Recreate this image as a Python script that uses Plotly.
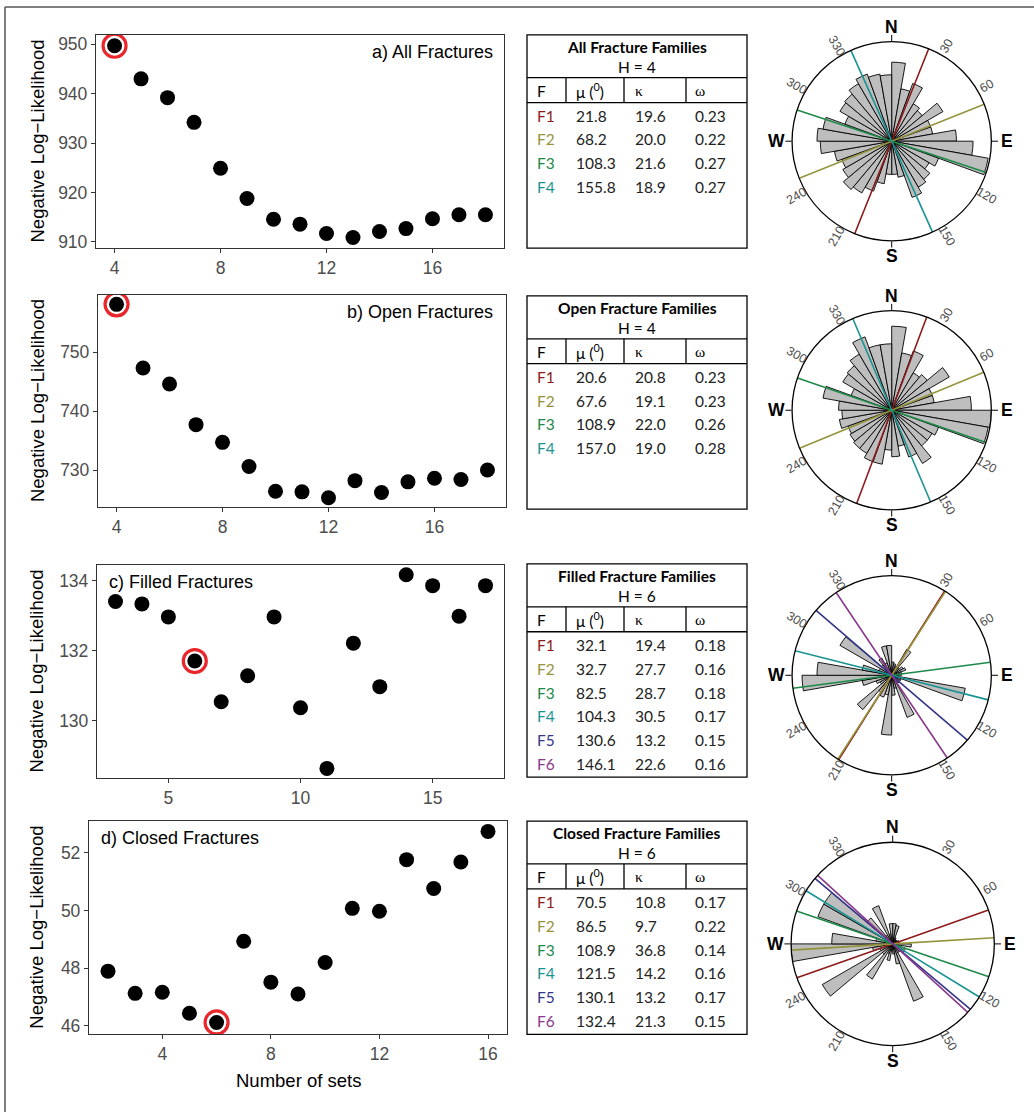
import math
import plotly.graph_objects as go

W, H = 1034, 1116

# ---------------- data ----------------
sets_a = list(range(4, 19))
nll_a = [949.7, 943.0, 939.2, 934.2, 924.9, 918.8, 914.6, 913.6, 911.7, 910.9, 912.1, 912.7, 914.7, 915.5, 915.5]
sets_b = list(range(4, 19))
nll_b = [758.1, 747.3, 744.6, 737.7, 734.7, 730.6, 726.4, 726.3, 725.3, 728.2, 726.2, 728.0, 728.6, 728.4, 730.0]
sets_c = list(range(3, 18))
nll_c = [133.40, 133.33, 132.96, 131.70, 130.54, 131.28, 132.96, 130.37, 128.64, 132.21, 130.97, 134.16, 133.85, 132.98, 133.85]
sets_d = list(range(2, 17))
nll_d = [47.89, 47.12, 47.16, 46.43, 46.11, 48.93, 47.51, 47.10, 48.19, 50.07, 49.97, 51.76, 50.76, 51.68, 52.74]
best_sets = [4, 4, 6, 6]
panel_titles = ["a) All Fractures", "b) Open Fractures", "c) Filled Fractures", "d) Closed Fractures"]

table_titles = ["All Fracture Families", "Open Fracture Families", "Filled Fracture Families", "Closed Fracture Families"]
n_families = [4, 4, 6, 6]
mu_a = [21.8, 68.2, 108.3, 155.8]
kappa_a = [19.6, 20.0, 21.6, 18.9]
omega_a = [0.23, 0.22, 0.27, 0.27]
mu_b = [20.6, 67.6, 108.9, 157.0]
kappa_b = [20.8, 19.1, 22.0, 19.0]
omega_b = [0.23, 0.23, 0.26, 0.28]
mu_c = [32.1, 32.7, 82.5, 104.3, 130.6, 146.1]
kappa_c = [19.4, 27.7, 28.7, 30.5, 13.2, 22.6]
omega_c = [0.18, 0.16, 0.18, 0.17, 0.15, 0.16]
mu_d = [70.5, 86.5, 108.9, 121.5, 130.1, 132.4]
kappa_d = [10.8, 9.7, 36.8, 14.2, 13.2, 21.3]
omega_d = [0.17, 0.22, 0.14, 0.16, 0.17, 0.15]
family_colors = ["#8E1B1B", "#95943C", "#1E8A4A", "#1A9393", "#35388A", "#8A3A8C"]

# rose diagram bins (10 degree bins, clockwise from North) - relative frequency
bin_centers = list(range(5, 360, 10))
rose_a = [23.8, 16, 18.5, 13, 12, 17.8, 12.5, 12.5, 19.5, 24.5, 29.5, 15, 13, 15, 16, 18, 11, 10,
          10, 13, 16, 18, 19, 17, 16, 17.5, 21.5, 22.5, 21, 15, 18, 18.5, 20, 21.5, 20.5, 20]
rose_b = [25.3, 17.5, 19, 13, 14, 20, 13, 13, 24, 30, 29.5, 15, 14, 14, 18.5, 15, 11, 14,
          12, 16.5, 16.5, 15, 15, 14.5, 14, 16, 15, 16, 21, 13, 17, 17.5, 19.5, 23.5, 20, 20]
rose_c = [4, 3.5, 3, 9, 3, 4, 4.5, 3, 3, 2, 22.5, 3, 3, 3, 3, 13.5, 4, 6,
          18, 6, 7, 6, 13.5, 4, 5, 9, 27, 22.5, 9, 4, 18, 4, 6, 4, 9, 9]
rose_d = [6, 5.5, 2, 1.5, 1.5, 1.5, 2, 2, 2, 5.5, 2, 4, 4, 3, 3, 18, 6, 3,
          2, 5, 3, 12, 4, 24, 4, 6, 30, 18, 5, 23.5, 23.5, 10, 3, 12, 3, 6]
angle_labels = [30, 60, 120, 150, 210, 240, 300, 330]
compass = {"N": 0, "E": 90, "S": 180, "W": 270}

# ---------------- layout helpers ----------------
def px(x):
    return x / W

def py(y):
    return 1 - y / H

FONT = "Liberation Sans, Arial, sans-serif"
TFONT = "Lato, Open Sans, sans-serif"
SERIF = "Liberation Serif, Times New Roman, serif"

fig = go.Figure()
annotations = []
shapes = []


def note(x, y, text, size, color="black", family=FONT, xanchor="center", textangle=0):
    annotations.append(dict(x=px(x), y=py(y), xref="paper", yref="paper", text=text,
                            showarrow=False, xanchor=xanchor, yanchor="middle",
                            textangle=textangle, borderpad=0,
                            font=dict(family=family, size=size, color=color)))


# scatter panel geometry (pixels): left, right, top, bottom
scatter_boxes = [(96, 504, 35, 249), (98, 506, 296, 509), (97, 504, 567, 781), (89, 507, 824, 1038)]
xranges = [[3.3, 18.7], [3.3, 18.7], [2.3, 17.7], [1.3, 16.7]]
yranges = [[908.75, 951.9], [723.7, 759.7], [128.36, 134.44], [45.7, 53.1]]
xticks = [[4, 8, 12, 16], [4, 8, 12, 16], [5, 10, 15], [4, 8, 12, 16]]
yticks = [[910, 920, 930, 940, 950], [730, 740, 750], [130, 132, 134], [46, 48, 50, 52]]
all_sets = [sets_a, sets_b, sets_c, sets_d]
all_nll = [nll_a, nll_b, nll_c, nll_d]

for i in range(4):
    xa = "x" if i == 0 else f"x{i+1}"
    ya = "y" if i == 0 else f"y{i+1}"
    fig.add_trace(go.Scatter(x=all_sets[i], y=all_nll[i], mode="markers",
                             marker=dict(color="black", size=15), xaxis=xa, yaxis=ya,
                             showlegend=False, hoverinfo="x+y"))
    bx = [s for s in all_sets[i] if s == best_sets[i]]
    by = [v for s, v in zip(all_sets[i], all_nll[i]) if s == best_sets[i]]
    fig.add_trace(go.Scatter(x=bx, y=by, mode="markers",
                             marker=dict(symbol="circle-open", size=23, color="#E8262B",
                                         line=dict(width=3.2, color="#E8262B")),
                             xaxis=xa, yaxis=ya, showlegend=False, hoverinfo="skip"))
    l, r, t, b = scatter_boxes[i]
    axstyle = dict(showline=True, mirror=True, linecolor="#333333", linewidth=1.3,
                   ticks="outside", ticklen=4, tickwidth=1, tickcolor="#333333",
                   tickfont=dict(family=FONT, size=17.5, color="#4D4D4D"),
                   showgrid=False, zeroline=False)
    xkey = "xaxis" if i == 0 else f"xaxis{i+1}"
    ykey = "yaxis" if i == 0 else f"yaxis{i+1}"
    fig.update_layout({
        xkey: dict(domain=[px(l), px(r)], range=xranges[i], tickvals=xticks[i],
                   anchor=ya, **axstyle),
        ykey: dict(domain=[py(b), py(t)], range=yranges[i], tickvals=yticks[i],
                   anchor=xa, **axstyle),
    })
    note(37, (t + b) / 2, "Negative Log\u2212Likelihood", 18.5, textangle=-90)
    if i < 2:
        note(494, t + 17, panel_titles[i], 18, xanchor="right")
    else:
        note(l + 11, t + 17, panel_titles[i], 18, xanchor="left")

note(298, 1084, "Number of sets", 18.5)

# ---------------- tables ----------------
table_tops = [35, 297, 566, 824]
all_mu = [mu_a, mu_b, mu_c, mu_d]
all_kappa = [kappa_a, kappa_b, kappa_c, kappa_d]
all_omega = [omega_a, omega_b, omega_c, omega_d]
TL, TR = 527, 747
col_sep = [566, 624, 686]
col_x = [536, 575, 634, 694]
for i in range(4):
    top = table_tops[i]
    bot = top + 214
    line = dict(color="black", width=1.3)
    shapes.append(dict(type="rect", xref="paper", yref="paper", x0=px(TL), x1=px(TR),
                       y0=py(bot), y1=py(top), line=line))
    shapes.append(dict(type="line", xref="paper", yref="paper", x0=px(TL), x1=px(TR),
                       y0=py(top + 43), y1=py(top + 43), line=line))
    shapes.append(dict(type="line", xref="paper", yref="paper", x0=px(TL), x1=px(TR),
                       y0=py(top + 68), y1=py(top + 68), line=line))
    for cs in col_sep:
        shapes.append(dict(type="line", xref="paper", yref="paper", x0=px(cs), x1=px(cs),
                           y0=py(top + 43), y1=py(top + 68), line=line))
    note((TL + TR) / 2, top + 12, f"<b>{table_titles[i]}</b>", 15.5, family=TFONT)
    note((TL + TR) / 2, top + 32, f"H = {n_families[i]}", 15.5, family=TFONT)
    headers = [("F", TFONT), ("\u03bc (<sup>0</sup>)", TFONT), ("\u03ba", SERIF), ("\u03c9", SERIF)]
    for (txt, fam), cx in zip(headers, col_x):
        note(cx, top + 56, txt, 15.5, family=fam, xanchor="left")
    for j in range(n_families[i]):
        yy = top + 81 + 24 * j
        vals = [f"F{j+1}", f"{all_mu[i][j]:.1f}", f"{all_kappa[i][j]:.1f}", f"{all_omega[i][j]:.2f}"]
        cols = [family_colors[j], "#222222", "#222222", "#222222"]
        for v, c, cx in zip(vals, cols, col_x):
            note(cx, yy, v, 15.5, color=c, family=TFONT, xanchor="left")

# ---------------- rose diagrams ----------------
roses = [rose_a, rose_b, rose_c, rose_d]
rose_geo = [(891.7, 141.7, 100), (891.7, 411.7, 100), (891.7, 677.7, 100), (892.7, 947.3, 102)]
RMAX = 30
for i in range(4):
    pk = "polar" if i == 0 else f"polar{i+1}"
    fig.add_trace(go.Barpolar(r=roses[i], theta=bin_centers, width=10, subplot=pk,
                              marker=dict(color="#BEBEBE", line=dict(color="black", width=0.9)),
                              showlegend=False))
    for j, m in enumerate(all_mu[i]):
        fig.add_trace(go.Scatterpolar(r=[RMAX, 0, RMAX], theta=[m, m, m + 180], mode="lines",
                                      line=dict(color=family_colors[j], width=1.6),
                                      subplot=pk, showlegend=False, hoverinfo="skip"))
    cx, cy, R = rose_geo[i]
    fig.update_layout({pk: dict(
        domain=dict(x=[px(cx - R), px(cx + R)], y=[py(cy + R), py(cy - R)]),
        bgcolor="rgba(0,0,0,0)",
        radialaxis=dict(visible=False, range=[0, RMAX]),
        angularaxis=dict(rotation=90, direction="clockwise", showgrid=False,
                         showticklabels=False, ticks="outside", ticklen=6,
                         tickcolor="black", tickwidth=1.2,
                         tickvals=[0, 90, 180, 270], linecolor="black", linewidth=1.3),
    )})
    for lab, ang in compass.items():
        rr = R * 1.15
        a = math.radians(ang)
        note(cx + rr * math.sin(a), cy - rr * math.cos(a), f"<b>{lab}</b>", 17.5)
    for ang in angle_labels:
        rr = R * 1.1
        a = math.radians(ang)
        ta = ang - 90 if ang < 180 else ang - 270
        note(cx + rr * math.sin(a), cy - rr * math.cos(a), str(ang), 12.5,
             color="#4D4D4D", textangle=ta)

# outer frame
shapes.append(dict(type="line", xref="paper", yref="paper", x0=px(5), x1=px(1034),
                   y0=py(7), y1=py(7), line=dict(color="#555555", width=1.5)))
shapes.append(dict(type="line", xref="paper", yref="paper", x0=px(5), x1=px(5),
                   y0=py(7), y1=py(1116), line=dict(color="#555555", width=1.5)))

fig.update_layout(width=W, height=H, margin=dict(l=0, r=0, t=0, b=0),
                  paper_bgcolor="white", plot_bgcolor="white",
                  annotations=annotations, shapes=shapes, showlegend=False)
fig.write_html("out.html", config={"displayModeBar": False},
               post_script="document.body.style.margin='0';")
